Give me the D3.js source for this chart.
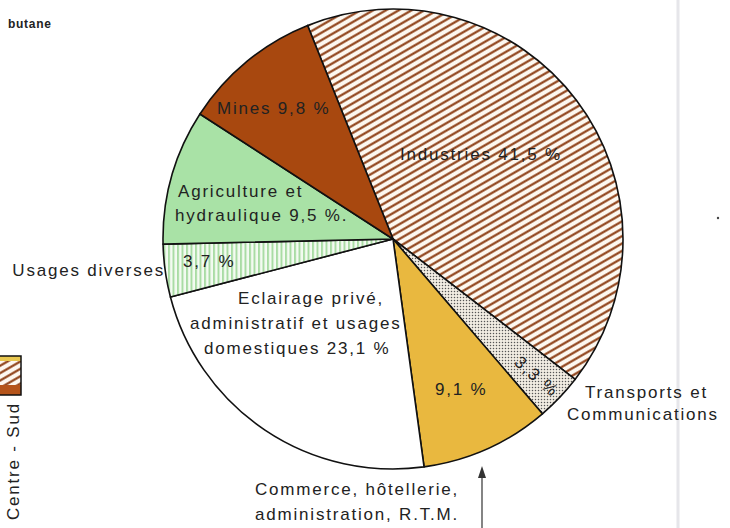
<!DOCTYPE html>
<html><head><meta charset="utf-8">
<script src="https://cdn.jsdelivr.net/npm/d3@7"></script>
<style>
body{margin:0;background:#fff;}
svg text{font-family:"Liberation Sans",Arial,sans-serif;fill:#222;}
</style></head>
<body>
<svg id="c" width="730" height="528"></svg>
<script>
const categories = ["Industries","Transports et Communications","Commerce, hôtellerie, administration, R.T.M.","Eclairage privé, administratif et usages domestiques","Usages diverses","Agriculture et hydraulique","Mines"];
const values = [41.5, 3.3, 9.1, 23.1, 3.7, 9.5, 9.8];
const valueLabels = ["41,5 %","3,3 %","9,1 %","23,1 %","3,7 %","9,5 %.","9,8 %"];

const svg = d3.select("#c");
const W = 730, H = 528;
const cx = 393, cy = 239, R = 230;
const defs = svg.append("defs");

// right page edge (behind everything)
svg.append("line").attr("x1",678).attr("y1",0).attr("x2",678).attr("y2",H).attr("stroke","#e6e6ea").attr("stroke-width",3);
svg.append("circle").attr("cx",718).attr("cy",218).attr("r",1.2).attr("fill","#444");

// hatch brown diagonal
const ph = defs.append("pattern").attr("id","hatch").attr("patternUnits","userSpaceOnUse")
  .attr("width",6.4).attr("height",6.4).attr("patternTransform","rotate(-30)");
ph.append("rect").attr("width",6.4).attr("height",6.4).attr("fill","#fdf8f0");
ph.append("line").attr("x1",0).attr("y1",3.2).attr("x2",6.4).attr("y2",3.2).attr("stroke","#8a3a10").attr("stroke-width",2.1);
// stipple
const pd = defs.append("pattern").attr("id","dots").attr("patternUnits","userSpaceOnUse").attr("width",3).attr("height",3);
pd.append("rect").attr("width",3).attr("height",3).attr("fill","#f1ece2");
pd.append("circle").attr("cx",1.5).attr("cy",1.5).attr("r",0.75).attr("fill","#555");
// green vertical stripes
const pv = defs.append("pattern").attr("id","vstripes").attr("patternUnits","userSpaceOnUse").attr("width",4.5).attr("height",4.5);
pv.append("rect").attr("width",4.5).attr("height",4.5).attr("fill","#f4fbf2");
pv.append("rect").attr("x",0).attr("width",2).attr("height",4.5).attr("fill","#a9dca4");

const fills = ["url(#hatch)","url(#dots)","#e9b83f","#ffffff","url(#vstripes)","#a9e2a6","#a8480f"];

const start = -21.8 * Math.PI/180;
const pie = d3.pie().sort(null).value(d=>d).startAngle(start).endAngle(start + 2*Math.PI);
const arcs = pie(values);
const arc = d3.arc().innerRadius(0).outerRadius(R);

const g = svg.append("g").attr("transform",`translate(${cx},${cy})`);
g.selectAll("path").data(arcs).join("path")
  .attr("d",arc).attr("fill",(d,i)=>fills[i])
  .attr("stroke","#111").attr("stroke-width",1.6).attr("stroke-linejoin","round");

// labels (positions relative to page)
const fs = 17, ls = 1.8;
function txt(x,y,s,opts={}){
  const t = svg.append("text").attr("x",x).attr("y",y).attr("font-size",opts.size||fs)
    .attr("letter-spacing",opts.ls!==undefined?opts.ls:ls)
    .attr("text-anchor",opts.anchor||"start").text(s);
  if(opts.rotate) t.attr("transform",`rotate(${opts.rotate},${x},${y})`);
  return t;
}
txt(400,160,"Industries " + valueLabels[0]);
txt(217,114,"Mines " + valueLabels[6]);
txt(178,197,"Agriculture et");
txt(175,221,"hydraulique " + valueLabels[5]);
txt(183,267,valueLabels[4]);
txt(165,276,"Usages diverses",{anchor:"end"});
txt(238,304,"Eclairage privé,");
txt(190,329,"administratif et usages");
txt(204,354,"domestiques " + valueLabels[3]);
txt(435,395,valueLabels[2]);
txt(533,381,valueLabels[1],{anchor:"middle",rotate:41});
txt(585,398,"Transports et");
txt(567,420,"Communications");
txt(255,495,"Commerce, hôtellerie,");
txt(255,520,"administration, R.T.M.");

// arrow
svg.append("line").attr("x1",482).attr("y1",528).attr("x2",482).attr("y2",470).attr("stroke","#333").attr("stroke-width",1.2);
svg.append("path").attr("d","M478,478 L482,466 L486,478 Z").attr("fill","#333");

// top-left fragment
txt(8,28,"butane",{size:12,ls:0.7}).attr("font-weight","bold");

// left legend fragment
const lg = svg.append("g");
lg.append("rect").attr("x",-1).attr("y",356).attr("width",22).attr("height",39).attr("fill","url(#hatch)");
lg.append("rect").attr("x",-1).attr("y",356).attr("width",22).attr("height",5).attr("fill","#e9c850");
lg.append("rect").attr("x",-1).attr("y",385).attr("width",22).attr("height",10).attr("fill","#b5541a");
lg.append("rect").attr("x",-1).attr("y",356).attr("width",22).attr("height",39).attr("fill","none").attr("stroke","#111").attr("stroke-width",1.5);
txt(19,520,"Centre - Sud",{anchor:"start",rotate:-90});
</script>
</body></html>
